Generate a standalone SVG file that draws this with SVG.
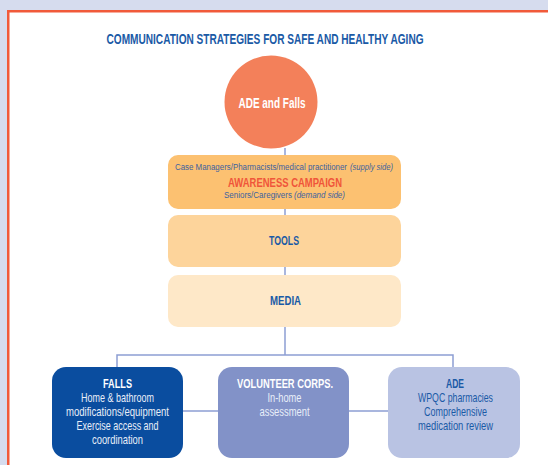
<svg xmlns="http://www.w3.org/2000/svg" width="548" height="465" viewBox="0 0 548 465">
<style>
text{font-family:"Liberation Sans",Arial,sans-serif;text-anchor:middle}
.b{font-weight:bold}
.title{fill:#1a5aa6;font-size:15px}
.lbl{fill:#1a5aa6;font-size:13px}
.sm{fill:#3d62a0;font-size:9.5px;text-anchor:start}
.it{font-style:italic}
.w{fill:#ffffff}
.hd{font-size:13.5px}
.lt{fill:#e8eef8;font-size:12px}
.dk{fill:#1a5aa6;font-size:12px}
.con{stroke:#8d9ed3;stroke-width:1.5;fill:none}
</style>
<rect x="0" y="0" width="548" height="465" fill="#d6dcee"/>
<rect x="8.25" y="11.25" width="560" height="470" fill="#ffffff" stroke="#f15a3a" stroke-width="2.5"/>
<text class="title b" transform="translate(265,44) scale(0.667,1)" textLength="475.3" lengthAdjust="spacingAndGlyphs">COMMUNICATION STRATEGIES FOR SAFE AND HEALTHY AGING</text>
<g id="connectors">
<line class="con" x1="285" y1="148" x2="285" y2="355"/>
<polyline class="con" points="117,367 117,355 453,355 453,367"/>
<line class="con" x1="183" y1="411" x2="388" y2="411"/>
</g>
<g id="ade-falls">
<circle cx="271" cy="102" r="46.5" fill="#f3805a"/>
<text class="w b" font-size="15" transform="translate(272,107.5) scale(0.667,1)" textLength="100.5" lengthAdjust="spacingAndGlyphs">ADE and Falls</text>
</g>
<g id="awareness">
<rect x="168" y="155" width="233" height="54" rx="10" fill="#fcc171"/>
<text class="sm" transform="translate(175,170) scale(0.83,1)" textLength="207.2" lengthAdjust="spacingAndGlyphs">Case Managers/Pharmacists/medical practitioner</text>
<text class="sm it" transform="translate(350,170) scale(0.83,1)" textLength="51.8" lengthAdjust="spacingAndGlyphs">(supply side)</text>
<text class="b" font-size="13.5" fill="#f0553a" transform="translate(285,187) scale(0.7,1)" textLength="162.9" lengthAdjust="spacingAndGlyphs">AWARENESS CAMPAIGN</text>
<text class="sm" transform="translate(224,198) scale(0.83,1)" textLength="81.9" lengthAdjust="spacingAndGlyphs">Seniors/Caregivers</text>
<text class="sm it" transform="translate(294,198) scale(0.83,1)" textLength="61.4" lengthAdjust="spacingAndGlyphs">(demand side)</text>
</g>
<g id="tools">
<rect x="168" y="215" width="233" height="52" rx="10" fill="#fdd49b"/>
<text class="lbl b" transform="translate(284,245) scale(0.7,1)" textLength="42.9" lengthAdjust="spacingAndGlyphs">TOOLS</text>
</g>
<g id="media">
<rect x="168" y="275" width="233" height="52" rx="10" fill="#fee8c8"/>
<text class="lbl b" transform="translate(285.5,305) scale(0.7,1)" textLength="44.3" lengthAdjust="spacingAndGlyphs">MEDIA</text>
</g>
<g id="falls">
<rect x="52" y="367" width="131" height="91" rx="14" fill="#0a4d9f"/>
<text class="w b hd" transform="translate(117.5,388) scale(0.7,1)" textLength="41.4" lengthAdjust="spacingAndGlyphs">FALLS</text>
<text class="lt" transform="translate(117.5,402) scale(0.75,1)" textLength="97.3" lengthAdjust="spacingAndGlyphs">Home &amp; bathroom</text>
<text class="lt" transform="translate(117.5,416) scale(0.75,1)" textLength="137.3" lengthAdjust="spacingAndGlyphs">modifications/equipment</text>
<text class="lt" transform="translate(117.5,430) scale(0.75,1)" textLength="109.3" lengthAdjust="spacingAndGlyphs">Exercise access and</text>
<text class="lt" transform="translate(117.5,444) scale(0.75,1)" textLength="68" lengthAdjust="spacingAndGlyphs">coordination</text>
</g>
<g id="volunteer">
<rect x="218" y="367" width="131" height="91" rx="14" fill="#8292c8"/>
<text class="w b hd" transform="translate(285,388) scale(0.7,1)" textLength="137.1" lengthAdjust="spacingAndGlyphs">VOLUNTEER CORPS.</text>
<text class="lt" transform="translate(284.5,402) scale(0.75,1)" textLength="45.3" lengthAdjust="spacingAndGlyphs">In-home</text>
<text class="lt" transform="translate(284.5,416) scale(0.75,1)" textLength="66.7" lengthAdjust="spacingAndGlyphs">assessment</text>
</g>
<g id="ade">
<rect x="388" y="367" width="132" height="91" rx="14" fill="#b9c3e3"/>
<text class="dk b hd" transform="translate(455,388) scale(0.7,1)" textLength="25.7" lengthAdjust="spacingAndGlyphs">ADE</text>
<text class="dk" transform="translate(455.5,402) scale(0.75,1)" textLength="100" lengthAdjust="spacingAndGlyphs">WPQC pharmacies</text>
<text class="dk" transform="translate(455.5,416) scale(0.75,1)" textLength="84" lengthAdjust="spacingAndGlyphs">Comprehensive</text>
<text class="dk" transform="translate(455.5,430) scale(0.75,1)" textLength="100" lengthAdjust="spacingAndGlyphs">medication review</text>
</g>
</svg>
